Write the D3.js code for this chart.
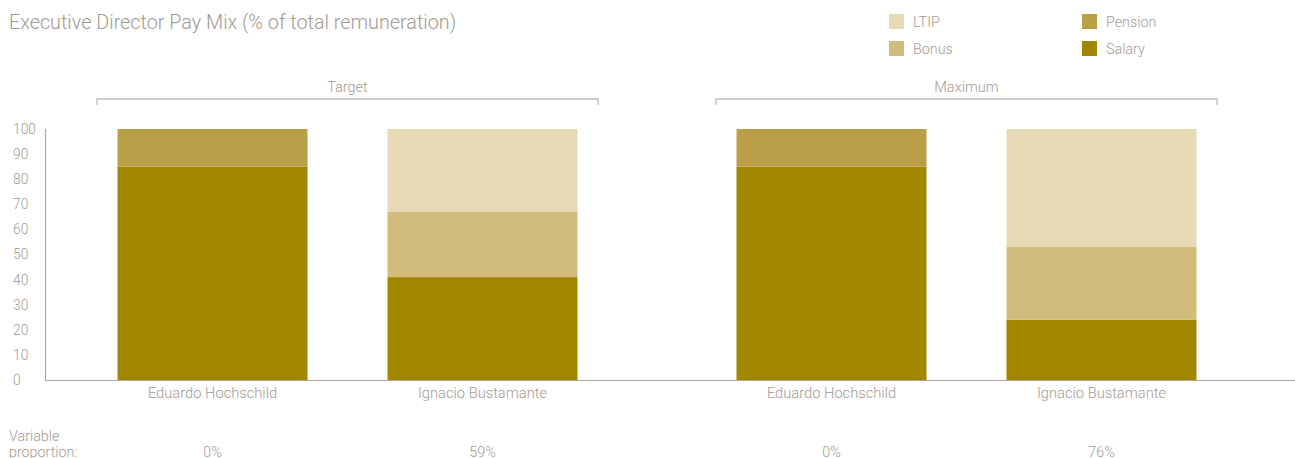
<!DOCTYPE html>
<html>
<head>
<meta charset="utf-8">
<script src="https://cdn.jsdelivr.net/npm/d3@7"></script>
<style>
  body { margin: 0; background: #fff; }
  svg text { font-family: Roboto, "DejaVu Sans", sans-serif; font-weight: 300; fill: #a39a92; }
</style>
</head>
<body>
<svg width="1295" height="458"></svg>
<script>
  // DATA
  var groups = ["Target", "Maximum"];
  var names = ["Eduardo Hochschild", "Ignacio Bustamante"];
  var keys = ["Salary", "Pension", "Bonus", "LTIP"];
  // one value per bar, in order: Target/Eduardo, Target/Ignacio, Maximum/Eduardo, Maximum/Ignacio
  var salary  = [85, 41, 85, 24];
  var pension = [15, 0, 15, 0];
  var bonus   = [0, 26, 0, 29];
  var ltip    = [0, 33, 0, 47];
  var variable = ["0%", "59%", "0%", "76%"];
  var yTicks = [0, 10, 20, 30, 40, 50, 60, 70, 80, 90, 100];

  var colors = { Salary: "#a18600", Pension: "#b99f47", Bonus: "#d2bc7b", LTIP: "#e6dab5" };

  var rows = [];
  groups.forEach(function (g, gi) {
    names.forEach(function (n, ni) {
      var i = gi * 2 + ni;
      rows.push({ group: g, name: n, Salary: salary[i], Pension: pension[i], Bonus: bonus[i], LTIP: ltip[i], variable: variable[i] });
    });
  });

  var svg = d3.select("svg");

  var x0 = d3.scaleBand().domain(groups).range([97, 1217]).paddingInner(0.1906).paddingOuter(0);
  var x1 = d3.scaleBand().domain(names).range([0, x0.bandwidth()]).paddingInner(0.2963).paddingOuter(0.076);
  var y = d3.scaleLinear().domain([0, 100]).range([380, 129]);

  // title
  svg.append("text")
    .attr("x", 9).attr("y", 29)
    .style("font-size", "19.8px")
    .text("Executive Director Pay Mix (% of total remuneration)");

  // legend
  var legendItems = [
    { key: "LTIP", x: 889, y: 14 },
    { key: "Bonus", x: 889, y: 41 },
    { key: "Pension", x: 1082, y: 14 },
    { key: "Salary", x: 1082, y: 41 }
  ];
  var lg = svg.append("g").selectAll("g").data(legendItems).enter().append("g")
    .attr("transform", function (d) { return "translate(" + d.x + "," + d.y + ")"; });
  lg.append("rect").attr("width", 15).attr("height", 15).attr("fill", function (d) { return colors[d.key]; });
  lg.append("text").attr("x", 24).attr("y", 13).style("font-size", "14.3px").text(function (d) { return d.key; });

  // group brackets
  var br = svg.append("g").selectAll("g").data(groups).enter().append("g");
  br.append("path")
    .attr("fill", "none")
    .attr("stroke", "#c4bbb5")
    .attr("stroke-width", 1.3)
    .attr("d", function (g) {
      var a = x0(g), b = x0(g) + x0.bandwidth();
      return "M" + a + ",105V99H" + b + "V105";
    });
  br.append("text")
    .attr("x", function (g) { return x0(g) + x0.bandwidth() / 2; })
    .attr("y", 92)
    .attr("text-anchor", "middle")
    .style("font-size", "14.5px")
    .text(function (g) { return g; });

  // stacked bars
  var stack = d3.stack().keys(keys);
  var series = stack(rows);

  svg.append("g").selectAll("g").data(series).enter().append("g")
    .attr("fill", function (d) { return colors[d.key]; })
    .selectAll("rect").data(function (d) { return d; }).enter().append("rect")
    .attr("x", function (d) { return x0(d.data.group) + x1(d.data.name); })
    .attr("width", x1.bandwidth())
    .attr("y", function (d) { return y(d[1]); })
    .attr("height", function (d) { return y(d[0]) - y(d[1]); });

  // y axis
  var yAxis = svg.append("g").attr("transform", "translate(45,0)")
    .call(d3.axisLeft(y).tickValues(yTicks).tickSize(0).tickPadding(0));
  yAxis.select(".domain").remove();
  yAxis.selectAll("text")
    .attr("x", -32)
    .attr("text-anchor", "start")
    .style("font-size", "13.8px")
    .style("font-family", null);
  svg.append("line").attr("x1", 45.5).attr("x2", 45.5).attr("y1", 129).attr("y2", 380)
    .attr("stroke", "#b3a89f").attr("stroke-width", 1.2);
  svg.append("line").attr("x1", 45).attr("x2", 1295).attr("y1", 380.5).attr("y2", 380.5)
    .attr("stroke", "#b3a89f").attr("stroke-width", 1.2);

  // category labels
  svg.append("g").selectAll("text").data(rows).enter().append("text")
    .attr("x", function (d) { return x0(d.group) + x1(d.name) + x1.bandwidth() / 2; })
    .attr("y", 398)
    .attr("text-anchor", "middle")
    .style("font-size", "14.7px")
    .text(function (d) { return d.name; });

  // variable proportion row
  svg.append("text").attr("x", 9).attr("y", 441).style("font-size", "14.3px").text("Variable");
  svg.append("text").attr("x", 9).attr("y", 457).style("font-size", "14.3px").text("proportion:");
  svg.append("g").selectAll("text").data(rows).enter().append("text")
    .attr("x", function (d) { return x0(d.group) + x1(d.name) + x1.bandwidth() / 2; })
    .attr("y", 457)
    .attr("text-anchor", "middle")
    .style("font-size", "14.3px")
    .text(function (d) { return d.variable; });
</script>
</body>
</html>
